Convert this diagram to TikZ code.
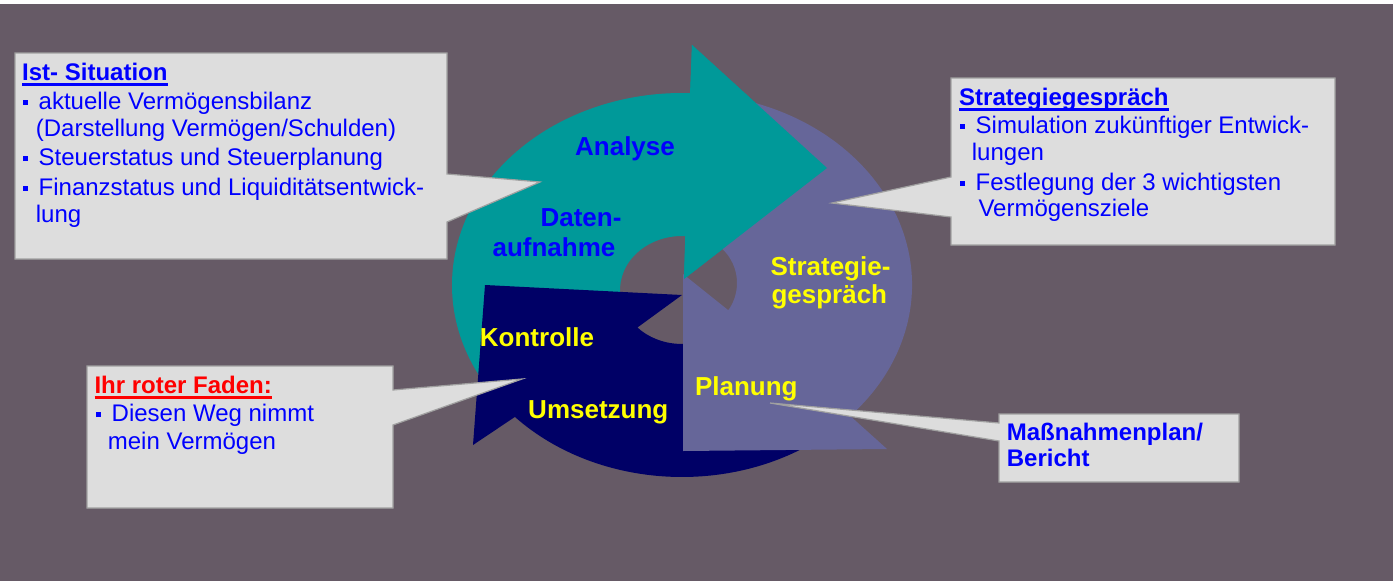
\documentclass[tikz,border=0pt]{standalone}
\usepackage{fontspec}
\setmainfont{Liberation Sans}
\usetikzlibrary{calc}

\definecolor{bgplum}{HTML}{665A66}
\definecolor{arrteal}{HTML}{009999}
\definecolor{arrnavy}{HTML}{000066}
\definecolor{arrlilac}{HTML}{666699}
\definecolor{boxgray}{HTML}{DDDDDD}
\definecolor{boxline}{HTML}{A0A0A0}
\definecolor{txtblue}{HTML}{0000FF}
\definecolor{txtyellow}{HTML}{FFFF00}
\definecolor{txtred}{HTML}{FF0000}

\newsavebox{\ulbox}
\newcommand{\ulin}[1]{\sbox{\ulbox}{#1}\rlap{\rule[-5.5pt]{\wd\ulbox}{2.8pt}}\usebox{\ulbox}}
\newcommand{\bul}{\rule[4.5pt]{5pt}{5pt}\hspace{10.5pt}}

\begin{document}
\begin{tikzpicture}[x=1pt,y=-1pt,
    callout/.style={fill=boxgray,draw=boxline,line width=1.2pt,line join=miter},
    body/.style={anchor=base west,inner sep=0pt,text=txtblue,font=\fontsize{24}{28}\selectfont},
    head/.style={body,font=\fontsize{24}{28}\selectfont\bfseries},
    lbl/.style={anchor=base,inner sep=0pt,font=\fontsize{26}{30}\selectfont\bfseries}]
      \useasboundingbox (0,0) rectangle (1393,581);
      \fill[white] (0,0) rectangle (1393,4);
      \fill[bgplum] (0,4) rectangle (1393,581);

      % Teal arrow (Datenaufnahme / Analyse)
      \fill[arrteal] (692,45) -- (827,168) -- (684,279)
        -- ($(682,290)+(273:62 and 54)$) arc[start angle=273,end angle=165,x radius=62,y radius=54]
        -- ($(682,285)+(140:230 and 192)$) arc[start angle=140,end angle=272,x radius=230,y radius=192]
        -- cycle;

      % Navy arrow (Umsetzung / Kontrolle)
      \fill[arrnavy] (485,285) -- (682,295)
        -- ($(682,290)+(136:62 and 54)$) arc[start angle=136,end angle=50,x radius=62,y radius=54]
        -- ($(682,285)+(50:230 and 192)$) arc[start angle=50,end angle=136.6,x radius=230,y radius=192]
        -- (473,445) -- cycle;

      % Lilac arrow (Strategiegespraech / Planung)
      \fill[arrlilac] ($(682,285)+(285:230 and 192)$) arc[start angle=285,end angle=403,x radius=230,y radius=192]
        -- (887,449) -- (683,451) -- (683,274)
        -- ($(690,283)+(35.4:47)$) arc[start angle=35.4,end angle=-70,radius=47]
        -- cycle;

      % Teal head again, on top of the lilac tail
      \fill[arrteal] (692,45) -- (827,168) -- (684,279) -- cycle;

      % Callouts
      \coordinate (istTip) at (540,182);
      \coordinate (stratTip) at (832,203);
      \coordinate (fadenTip) at (522,379);
      \coordinate (planTip) at (770,403);

      \draw[callout] (15,53) -- (447,53) -- (447,174) -- (istTip) -- (447,222) -- (447,259) -- (15,259) -- cycle;
      \draw[callout] (951,78) -- (1335,78) -- (1335,245) -- (951,245) -- (951,217) -- (stratTip) -- (951,177) -- cycle;
      \draw[callout] (87,366) -- (393,366) -- (393,390) -- (fadenTip) -- (393,425) -- (393,508) -- (87,508) -- cycle;
      \draw[callout] (999,414) -- (1239,414) -- (1239,482) -- (999,482) -- (999,441) -- (planTip) -- (999,423) -- cycle;

      % Ist-Situation text
      \node[head] (istTitle) at (22,80) {\ulin{Ist- Situation}};
      \node[body] (ist1) at (23,109) {\bul aktuelle Vermögensbilanz};
      \node[body] (ist2) at (35.7,136.7) {(Darstellung Vermögen/Schulden)};
      \node[body] (ist3) at (23,165.7) {\bul Steuerstatus und Steuerplanung};
      \node[body] (ist4) at (23,195) {\bul Finanzstatus und Liquiditätsentwick-};
      \node[body] (ist5) at (35.7,222.7) {lung};

      % Strategiegespraech text
      \node[head] (stratTitle) at (959,105) {\ulin{Strategiegespräch}};
      \node[body] (strat1) at (960,133.3) {\bul Simulation zukünftiger Entwick-};
      \node[body] (strat2) at (971.7,160) {lungen};
      \node[body] (strat3) at (960,190) {\bul Festlegung der 3 wichtigsten};
      \node[body] (strat4) at (978.3,216.7) {Vermögensziele};

      % Roter Faden text
      \node[head,text=txtred] (fadenTitle) at (94.3,393.3) {\ulin{Ihr roter Faden:}};
      \node[body] (faden1) at (96,421.7) {\bul Diesen Weg nimmt};
      \node[body] (faden2) at (107.7,449.3) {mein Vermögen};

      % Massnahmenplan text
      \node[head] (plan1) at (1006.7,440.7) {Maßnahmenplan/};
      \node[head] (plan2) at (1006.7,466.7) {Bericht};

      % Labels on the cycle
      \node[lbl,text=txtblue] (analyse) at (625,155) {Analyse};
      \node[lbl,text=txtblue] (daten) at (581,226.7) {Daten-};
      \node[lbl,text=txtblue] (aufnahme) at (554,256.7) {aufnahme};
      \node[lbl,text=txtyellow] (strategie) at (830.5,275) {Strategie-};
      \node[lbl,text=txtyellow] (gespraech) at (829.3,303.3) {gespräch};
      \node[lbl,text=txtyellow] (kontrolle) at (537,346.7) {Kontrolle};
      \node[lbl,text=txtyellow] (planung) at (746.3,395) {Planung};
      \node[lbl,text=txtyellow] (umsetzung) at (598.3,418.3) {Umsetzung};
    \end{tikzpicture}
\end{document}
